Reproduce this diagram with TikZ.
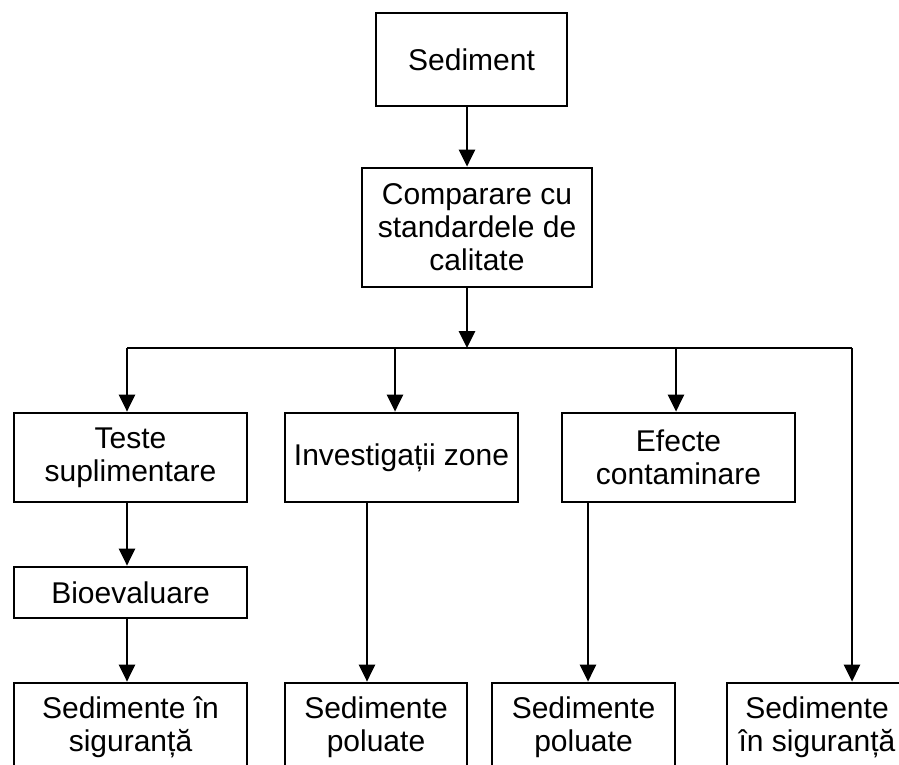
\documentclass[tikz,border=0pt]{standalone}
\usepackage{fontspec}
\setmainfont{Liberation Sans}
\usetikzlibrary{arrows.meta}
\tikzset{
  box/.style={draw, line width=2.7pt, align=center, inner sep=0pt,
    font=\fontsize{30}{33}\selectfont},
  flow/.style={line width=2.7pt, -{Triangle[width=16pt,length=17pt]}},
  bar/.style={line width=2.7pt},
}

\begin{document}
\begin{tikzpicture}[x=1pt,y=-1pt]
  \useasboundingbox (0,0) rectangle (899,765);
  \clip (0,0) rectangle (899,765);

  % top of the chain
  \node[box, minimum width=191pt, minimum height=93pt] (sed) at (471.5,59.5) {Sediment};
  \node[box, minimum width=230pt, minimum height=119pt] (comp) at (477,227.5)
    {Comparare cu\\standardele de\\calitate};

  % middle row
  \node[box, minimum width=233pt, minimum height=89pt] (teste) at (130.5,457.5)
    {Teste\\suplimentare};
  \node[box, minimum width=233pt, minimum height=89pt] (invest) at (401.5,457.5)
    {Investigații zone};
  \node[box, minimum width=233pt, minimum height=89pt] (efecte) at (678.5,457.5)
    {Efecte\\contaminare};
  \node[box, minimum width=233pt, minimum height=51pt] (bio) at (130.5,592.5) {Bioevaluare};

  % bottom row (runs off the page)
  \node[box, minimum width=233pt, minimum height=89pt] (sigA) at (130.5,727.5) {Sedimente în\\siguranță};
  \node[box, minimum width=182pt, minimum height=89pt] (polA) at (376,727.5) {Sedimente\\poluate};
  \node[box, minimum width=183pt, minimum height=89pt] (polB) at (583.5,727.5) {Sedimente\\poluate};
  \node[box, minimum width=180pt, minimum height=89pt] (sigB) at (817,727.5) {Sedimente\\în siguranță};

  \coordinate (spine) at (467,348); % branch line
  \coordinate (barL) at (127,348);
  \coordinate (barB) at (395,348);
  \coordinate (barC) at (676,348);
  \coordinate (barR) at (852,348);
  \coordinate (dropA) at (367,0);
  \coordinate (dropB) at (588,0);

  \draw[flow] (sed.south -| spine) -- (comp.north -| spine);
  \draw[flow] (comp.south -| spine) -- (spine);
  \draw[bar] (barL) -- (barR);

  \draw[flow] (barL) -- (barL |- teste.north);
  \draw[flow] (barB) -- (barB |- invest.north);
  \draw[flow] (barC) -- (barC |- efecte.north);
  \draw[flow] (barR) -- (barR |- sigB.north);

  \draw[flow] (teste.south -| barL) -- (bio.north -| barL);
  \draw[flow] (bio.south -| barL) -- (sigA.north -| barL);
  \draw[flow] (invest.south -| dropA) -- (polA.north -| dropA);
  \draw[flow] (efecte.south -| dropB) -- (polB.north -| dropB);
\end{tikzpicture}
\end{document}
